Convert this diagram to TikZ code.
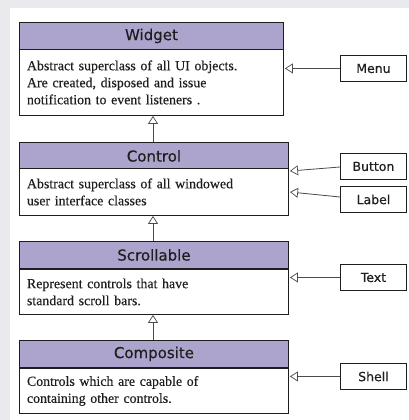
\documentclass[tikz,border=0pt]{standalone}
\usepackage{fontspec}
\setmainfont[FakeBold=0.3]{Liberation Serif}
\newfontfamily\hdrfont[FakeBold=0.4]{DejaVu Sans}
\usetikzlibrary{arrows.meta}
\definecolor{hdrfill}{HTML}{ACA4CC}
\definecolor{bggray}{HTML}{EAEAEE}
\definecolor{ink}{HTML}{1E1E1E}
\begin{document}
\begin{tikzpicture}[x=1pt,y=-1pt,
  hdr/.style={draw=ink,fill=hdrfill,line width=0.9pt,minimum height=27pt,inner sep=0pt,
    font=\hdrfont\fontsize{15}{17}\selectfont,text=ink,anchor=north west},
  body/.style={draw=ink,fill=white,line width=0.9pt,inner xsep=7.5pt,inner ysep=0pt,align=left,
    font=\fontsize{13.9}{17}\selectfont,text=ink,anchor=north west},
  sub/.style={draw=ink,fill=white,line width=0.9pt,minimum width=66pt,minimum height=26pt,inner sep=0pt,
    font=\hdrfont\fontsize{12.5}{15}\selectfont,text=ink,anchor=north west},
  inh/.style={draw=ink!80,line width=0.8pt,-{Triangle[open,length=8pt,width=10pt,line width=0.7pt]}}
]
\useasboundingbox (0,0) rectangle (409,420);
\fill[bggray] (0,0) rectangle (409,420);
\fill[white] (10,8) rectangle (409,420);

% Widget
\node[hdr,minimum width=264pt] (wh) at (19,22) {Widget};
\node[body,text width=249pt,minimum height=66pt] (wb) at (19,49) {Abstract superclass of all UI objects.\\Are created, disposed and issue\\notification to event listeners .};
% Control
\node[hdr,minimum width=269pt] (ch) at (19,142) {Control};
\node[body,text width=254pt,minimum height=47pt] (cb) at (19,168) {Abstract superclass of all windowed\\user interface classes};
% Scrollable
\node[hdr,minimum width=269pt] (sh) at (19,241) {Scrollable};
\node[body,text width=254pt,minimum height=45pt] (sb) at (19,269) {Represent controls that have\\standard scroll bars.};
% Composite
\node[hdr,minimum width=269pt] (kh) at (19,340) {Composite};
\node[body,text width=254pt,minimum height=45pt] (kb) at (19,368) {Controls which are capable of\\containing other controls.};

% subclasses
\node[sub] (menu) at (340,55) {Menu};
\node[sub] (button) at (340,153) {Button};
\node[sub] (label) at (340,186) {Label};
\node[sub] (text) at (340,264) {Text};
\node[sub] (shell) at (340,363) {Shell};

% vertical inheritance
\draw[inh] (ch.north -| 153,0) -- (wb.south -| 153,0);
\draw[inh] (sh.north -| 153,0) -- (cb.south -| 153,0);
\draw[inh] (kh.north -| 153,0) -- (sb.south -| 153,0);

% side inheritance
\coordinate (bt) at (290,171);
\coordinate (bs) at (340,167);
\coordinate (lt) at (290,192);
\coordinate (ls) at (340,197);
\draw[inh] (menu.west) -- ([xshift=1pt]wb.east |- menu.west);
\draw[inh] (bs) -- (bt);
\draw[inh] (ls) -- (lt);
\draw[inh] (text.west) -- ([xshift=1pt]sb.east |- text.west);
\draw[inh] (shell.west) -- ([xshift=1pt]kb.east |- shell.west);
\end{tikzpicture}
\end{document}
